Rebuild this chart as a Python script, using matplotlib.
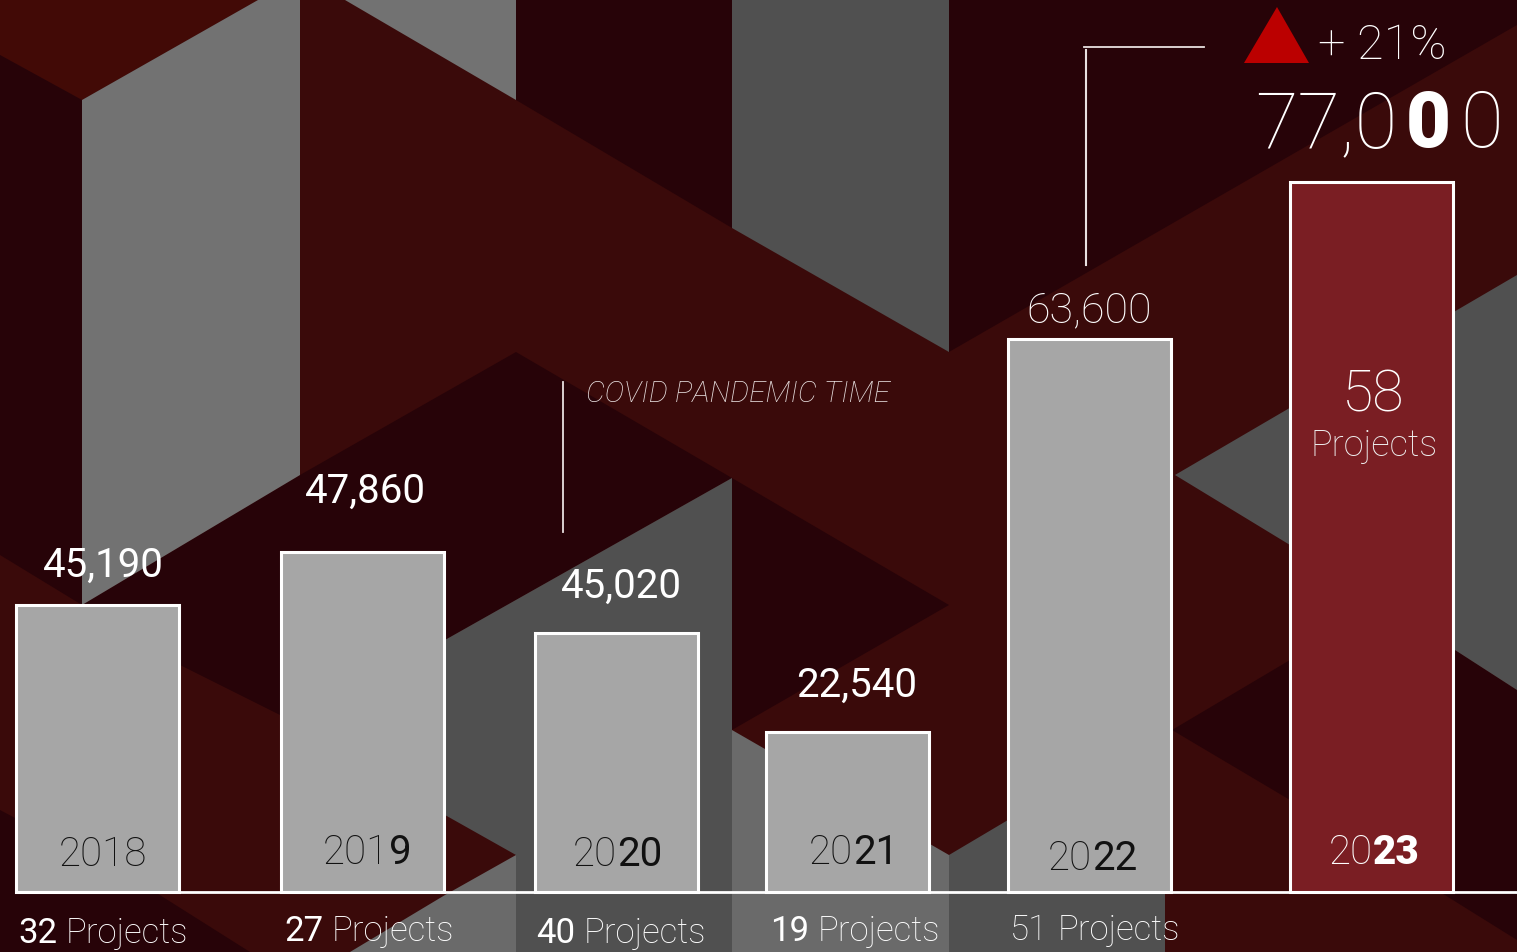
import matplotlib
matplotlib.use("Agg")
import matplotlib.pyplot as plt

# =========================
# Chart data
# =========================
years = ["2018", "2019", "2020", "2021", "2022", "2023"]
amounts = ["45,190", "47,860", "45,020", "22,540", "63,600", "77,000"]
projects = [32, 27, 40, 19, 51, 58]
# heights as drawn in the picture, they do not follow the amounts
bar_heights = [287, 340, 259, 160, 553, 710]

# =========================
# Layout (pixels)
# =========================
W, H = 1517, 952
BASE = 892
bar_centers = [98, 362.5, 617, 847.5, 1090, 1372]
BAR_W = 163

RED = "#3a0a0a"
DARK = "#270308"
GREY_D = "#505050"
GREY_M = "#6a6a6a"
GREY_L = "#727272"

# background shapes, in image pixels
background = [
    ("#420a06", [(0, 0), (258, 0), (82, 100), (0, 55)]),
    (DARK, [(0, 55), (82, 100), (82, 605), (0, 555)]),
    (DARK, [(82, 605), (300, 475), (516, 352), (732, 478), (445, 640), (300, 725), (180, 665)]),
    (DARK, [(516, 0), (732, 0), (732, 228), (516, 100)]),
    (DARK, [(949, 0), (1517, 0), (1517, 25), (949, 352)]),
    (DARK, [(732, 478), (949, 605), (732, 730)]),
    (DARK, [(1172, 730), (1290, 660), (1290, 800)]),
    (DARK, [(1455, 650), (1517, 690), (1517, 892), (1455, 892)]),
    (DARK, [(1440, 892), (1517, 892), (1517, 940)]),
    (DARK, [(0, 810), (155, 892), (250, 952), (0, 952)]),
    (GREY_L, [(82, 100), (258, 0), (300, 0), (300, 475), (82, 605)]),
    (GREY_L, [(345, 0), (516, 0), (516, 100)]),
    (GREY_D, [(732, 0), (949, 0), (949, 352), (732, 228)]),
    (GREY_D, [(445, 640), (732, 478), (732, 952), (516, 952), (516, 855), (445, 815)]),
    (GREY_M, [(516, 855), (516, 952), (350, 952), (445, 895)]),
    (GREY_M, [(732, 730), (949, 855), (949, 952), (732, 952)]),
    (GREY_D, [(949, 855), (1008, 820), (1008, 892), (1165, 892), (1165, 952), (949, 952)]),
    (GREY_D, [(1175, 475), (1517, 275), (1517, 690), (1455, 650), (1290, 545)]),
]

plt.rcParams["font.family"] = ["Roboto", "DejaVu Sans"]

fig = plt.figure(figsize=(W / 100, H / 100), dpi=100)
ax = fig.add_axes([0, 0, 1, 1])
ax.set_xlim(0, W)
ax.set_ylim(BASE - H, BASE)
ax.axis("off")
ax.add_patch(plt.Rectangle((0, BASE - H), W, H, color=RED, zorder=0))
renderer = fig.canvas.get_renderer()


def up(py):
    return BASE - py


for color, pts in background:
    ax.fill([p[0] for p in pts], [up(p[1]) for p in pts], color=color, lw=0, zorder=1)

# =========================
# Bars
# =========================
bar_colors = ["#a6a6a6"] * 5 + ["#7a1e23"]
ax.bar(bar_centers, bar_heights, width=BAR_W, color=bar_colors,
       edgecolor="white", linewidth=2.2, zorder=2)
ax.plot([16, W], [0, 0], color="white", lw=2, zorder=3)


# =========================
# Text helpers
# =========================
def run(x, py, pieces, size, color, gap=1):
    # pieces are (text, weight) drawn one after the other from x
    for txt, weight in pieces:
        t = ax.text(x, up(py), txt, fontsize=size, color=color, fontweight=weight,
                    va="baseline", ha="left", zorder=4)
        x = t.get_window_extent(renderer).x1 + gap
    return x


# amounts above the bars
amount_x = [103, 365, 621, 857, 1089]
amount_py = [577, 503, 598, 697, 322]
amount_size = [29, 29, 29, 29, 31]
amount_weight = ["regular", "regular", "regular", "regular", "light"]
for i in range(5):
    ax.text(amount_x[i], up(amount_py[i]), amounts[i], fontsize=amount_size[i], color="white",
            fontweight=amount_weight[i], ha="center", va="baseline", zorder=4)

# years inside the bars
year_x = [59, 323, 573, 809, 1048, 1329]
year_py = [866, 864, 866, 864, 870, 864]
year_split = [4, 3, 2, 2, 2, 2]
for i in range(6):
    head, tail = years[i][:year_split[i]], years[i][year_split[i]:]
    if i == 5:
        run(year_x[i], year_py[i], [(head, "light"), (tail, "black")], 29, "white", gap=0)
    else:
        run(year_x[i], year_py[i], [(head, "light"), (tail, "regular")], 29, "#111111", gap=0)

# project counts under the bars
proj_x = [18, 284, 536, 770, 1010]
proj_py = [943, 941, 943, 941, 940]
proj_weight = ["regular", "regular", "regular", "regular", "light"]
for i in range(5):
    run(proj_x[i], proj_py[i], [(f"{projects[i]}", proj_weight[i]), ("Projects", "light")],
        25, "white", gap=9)

# 2023 call out
ax.text(1373, up(412), f"{projects[5]}", fontsize=41, color="white", fontweight="light",
        ha="center", va="baseline", zorder=4)
ax.text(1374, up(456), "Projects", fontsize=26, color="#eeeeee", fontweight="light",
        ha="center", va="baseline", zorder=4)
total = amounts[5]
run(1255, 147, [(total[:4], "light"), (total[4], "black"), (total[5], "light")], 56, "white", gap=9)
ax.text(1318, up(59), "+ 21%", fontsize=35, color="white", fontweight="light",
        va="baseline", ha="left", zorder=4)
ax.fill([1244, 1277, 1309], [up(63), up(7), up(63)], color="#bb0000", lw=0, zorder=4)

# connector lines
ax.plot([1084, 1204], [up(47), up(47)], color="#e8e0e0", lw=1.3, zorder=3)
ax.plot([1086, 1086], [up(50), up(265)], color="#e8e0e0", lw=1.5, zorder=3)
ax.plot([563, 563], [up(382), up(532)], color="#e8e0e0", lw=1.3, zorder=3)
ax.text(586, up(402), "COVID PANDEMIC TIME", fontsize=21.5, color="#e8e0e0",
        fontstyle="italic", fontweight="light", va="baseline", ha="left", zorder=4)

fig.savefig("out.png", dpi=100)
